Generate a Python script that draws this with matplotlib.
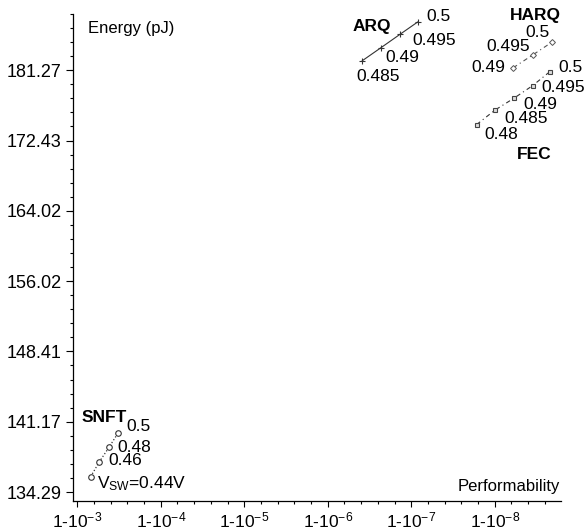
import numpy as np
import matplotlib
matplotlib.use("Agg")
import matplotlib.pyplot as plt
from matplotlib.ticker import FixedLocator, NullFormatter

plt.rcParams['font.family'] = ['Liberation Sans', 'DejaVu Sans']
plt.rcParams['mathtext.fontset'] = 'custom'
plt.rcParams['mathtext.rm'] = 'Liberation Sans'
plt.rcParams['mathtext.it'] = 'Liberation Sans:italic'
plt.rcParams['mathtext.bf'] = 'Liberation Sans:bold'

# ---- data: unreliability (1 - performability) and energy (pJ) ----
snft_unrel = [10**-3.160, 10**-3.263, 10**-3.380, 10**-3.491]
snft_energy = [135.76, 137.19, 138.63, 140.08]
snft_labels = ["V$_{\\rm SW}$=0.44V", "0.46", "0.48", "0.5"]

arq_unrel = [10**-6.413, 10**-6.637, 10**-6.865, 10**-7.077]
arq_energy = [182.5, 184.2, 185.96, 187.6]
arq_labels = ["0.485", "0.49", "0.495", "0.5"]

harq_unrel = [10**-8.222, 10**-8.461, 10**-8.681]
harq_energy = [181.6, 183.3, 184.9]
harq_labels = ["0.49", "0.495", "0.5"]

fec_unrel = [10**-7.783, 10**-8.002, 10**-8.230, 10**-8.454, 10**-8.661]
fec_energy = [174.4, 176.2, 177.7, 179.3, 181.1]
fec_labels = ["0.48", "0.485", "0.49", "0.495", "0.5"]

ytick_vals = [134.29, 141.17, 148.41, 156.02, 164.02, 172.43, 181.27]
ytick_labels = ["134.29", "141.17", "148.41", "156.02", "164.02", "172.43", "181.27"]
xtick_exps = [3, 4, 5, 6, 7, 8]

fig = plt.figure(figsize=(5.86, 5.31), dpi=100)
ax = fig.add_axes([72.7/586, 30/531, (560.7-72.7)/586, (501-14)/531])

ax.set_xscale('log')
ax.set_yscale('log')

lc = '#333333'
ax.plot(snft_unrel, snft_energy, linestyle=':', color=lc, lw=0.9,
        marker='o', ms=4, mfc='white', mec=lc, mew=0.8)
ax.plot(arq_unrel, arq_energy, linestyle='-', color=lc, lw=0.8,
        marker='+', ms=4.5, mec=lc, mew=0.8)
ax.plot(harq_unrel, harq_energy, linestyle=(0, (4, 3, 1, 3)), color='#555555', lw=0.8,
        marker='D', ms=3, mfc='white', mec='#555555', mew=0.7)
ax.plot(fec_unrel, fec_energy, linestyle=(0, (4, 3, 1, 3)), color=lc, lw=0.8,
        marker='s', ms=3.3, mfc='#dddddd', mec='#444444', mew=0.8)

fs = 12.5
def lab(xs, ys, texts, offs, ha='left'):
    for x, y, t, o in zip(xs, ys, texts, offs):
        ax.annotate(t, xy=(x, y), xytext=o, textcoords='offset pixels',
                    ha=ha, va='center', fontsize=fs)

lab(snft_unrel, snft_energy, snft_labels, [(6, -7), (9, 1), (8, 0), (8, 6)])
ax.annotate("SNFT", xy=(snft_unrel[-1], snft_energy[-1]), xytext=(-37, 15),
            textcoords='offset pixels', ha='left', va='center', fontsize=fs, fontweight='bold')

lab(arq_unrel, arq_energy, arq_labels, [(-6, -16), (4, -10), (12, -6), (9, 5)])
ax.annotate("ARQ", xy=(arq_unrel[0], arq_energy[0]), xytext=(-10, 34),
            textcoords='offset pixels', ha='left', va='center', fontsize=fs, fontweight='bold')

lab(harq_unrel, harq_energy, harq_labels, [(-8, 0), (-3, 8), (-2, 10)], ha='right')
ax.annotate("HARQ", xy=(harq_unrel[-1], harq_energy[-1]), xytext=(-16, 27),
            textcoords='offset pixels', ha='center', va='center', fontsize=fs, fontweight='bold')

lab(fec_unrel, fec_energy, fec_labels, [(8, -10), (9, -8), (9, -6), (9, -2), (8, 4)])
ax.annotate("FEC", xy=(fec_unrel[0], fec_energy[0]), xytext=(40, -30),
            textcoords='offset pixels', ha='left', va='center', fontsize=fs, fontweight='bold')

# axes limits
ax.set_xlim(10**-2.945, 10**-8.79)
ax.set_ylim(np.exp(4.8936), np.exp(5.24))

# y ticks
ax.yaxis.set_major_locator(FixedLocator(ytick_vals))
ax.set_yticklabels(ytick_labels)
ax.yaxis.set_minor_locator(FixedLocator(np.exp(np.arange(4.90, 5.2401, 0.01))))
ax.yaxis.set_minor_formatter(NullFormatter())

# x ticks
ax.xaxis.set_major_locator(FixedLocator([10.0**-e for e in xtick_exps]))
ax.set_xticklabels(["1-10$^{-%d}$" % e for e in xtick_exps])
ax.xaxis.set_minor_locator(FixedLocator(10.0**-np.arange(3.0, 8.81, 0.2)))
ax.xaxis.set_minor_formatter(NullFormatter())

ax.tick_params(axis='y', which='major', direction='out', length=5, width=0.8, labelsize=13, pad=3)
ax.tick_params(axis='y', which='minor', direction='out', length=2.5, width=0.8)
ax.tick_params(axis='x', which='major', direction='out', length=4, width=0.8, labelsize=12.5, pad=3)
ax.tick_params(axis='x', which='minor', direction='out', length=2, width=0.8)

for s in ['top', 'right']:
    ax.spines[s].set_visible(False)
for s in ['left', 'bottom']:
    ax.spines[s].set_linewidth(0.9)

ax.text(0.032, 0.985, "Energy (pJ)", transform=ax.transAxes, ha='left', va='top', fontsize=12)
ax.text(0.998, 0.015, "Performability", transform=ax.transAxes, ha='right', va='bottom', fontsize=12)

fig.savefig("out.png", dpi=100)
